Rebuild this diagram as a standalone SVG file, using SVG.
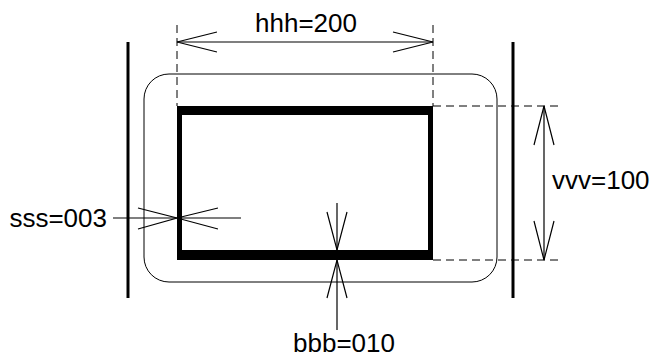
<svg xmlns="http://www.w3.org/2000/svg" width="656" height="359" viewBox="0 0 656 359">
<style>
.t{font-family:"Liberation Sans",Arial,sans-serif;font-size:26px;fill:#000}
.thin{stroke:#000;stroke-width:1.2;fill:none}
.dash{stroke:#000;stroke-width:1;fill:none;stroke-dasharray:8 5}
.bar{stroke:#000;stroke-width:3;fill:none}
</style>
<rect width="656" height="359" fill="#fff"/>
<g id="walls">
<line class="bar" x1="128" y1="42" x2="128" y2="298"/>
<line class="bar" x1="513" y1="42" x2="513" y2="298"/>
</g>
<g id="outer">
<rect x="144" y="74" width="353" height="208" rx="25" ry="25" fill="none" stroke="#000" stroke-width="1"/>
</g>
<g id="frame">
<path d="M177 106H433V260H177Z M182 115V250H428V115Z" fill="#000" fill-rule="evenodd"/>
</g>
<g id="connectors">
<line class="dash" x1="177" y1="25" x2="177" y2="106"/>
<line class="dash" x1="433" y1="25" x2="433" y2="106"/>
<line class="dash" x1="433" y1="106" x2="558" y2="106"/>
<line class="dash" x1="433" y1="260" x2="562" y2="260"/>
<line class="thin" x1="177" y1="42" x2="433" y2="42"/>
<path class="thin" d="M217 32L177 42L217 52 M393 32L433 42L393 52"/>
<line class="thin" x1="544" y1="106" x2="544" y2="260"/>
<path class="thin" d="M534 145L544 106L554 145 M534 221L544 260L554 221"/>
<line class="thin" x1="113" y1="218" x2="241" y2="218"/>
<path class="thin" d="M138 208L177 218L138 229 M218 208L177 218L218 229"/>
<line class="thin" x1="337" y1="203" x2="337" y2="330"/>
<path class="thin" d="M327 212L337 250L347 212 M327 298L337 260L347 298"/>
</g>
<g id="labels">
<text class="t" x="306" y="32" text-anchor="middle">hhh=200</text>
<text class="t" x="552" y="189">vvv=100</text>
<text class="t" x="107" y="227" text-anchor="end">sss=003</text>
<text class="t" x="344" y="352" text-anchor="middle">bbb=010</text>
</g>
</svg>
